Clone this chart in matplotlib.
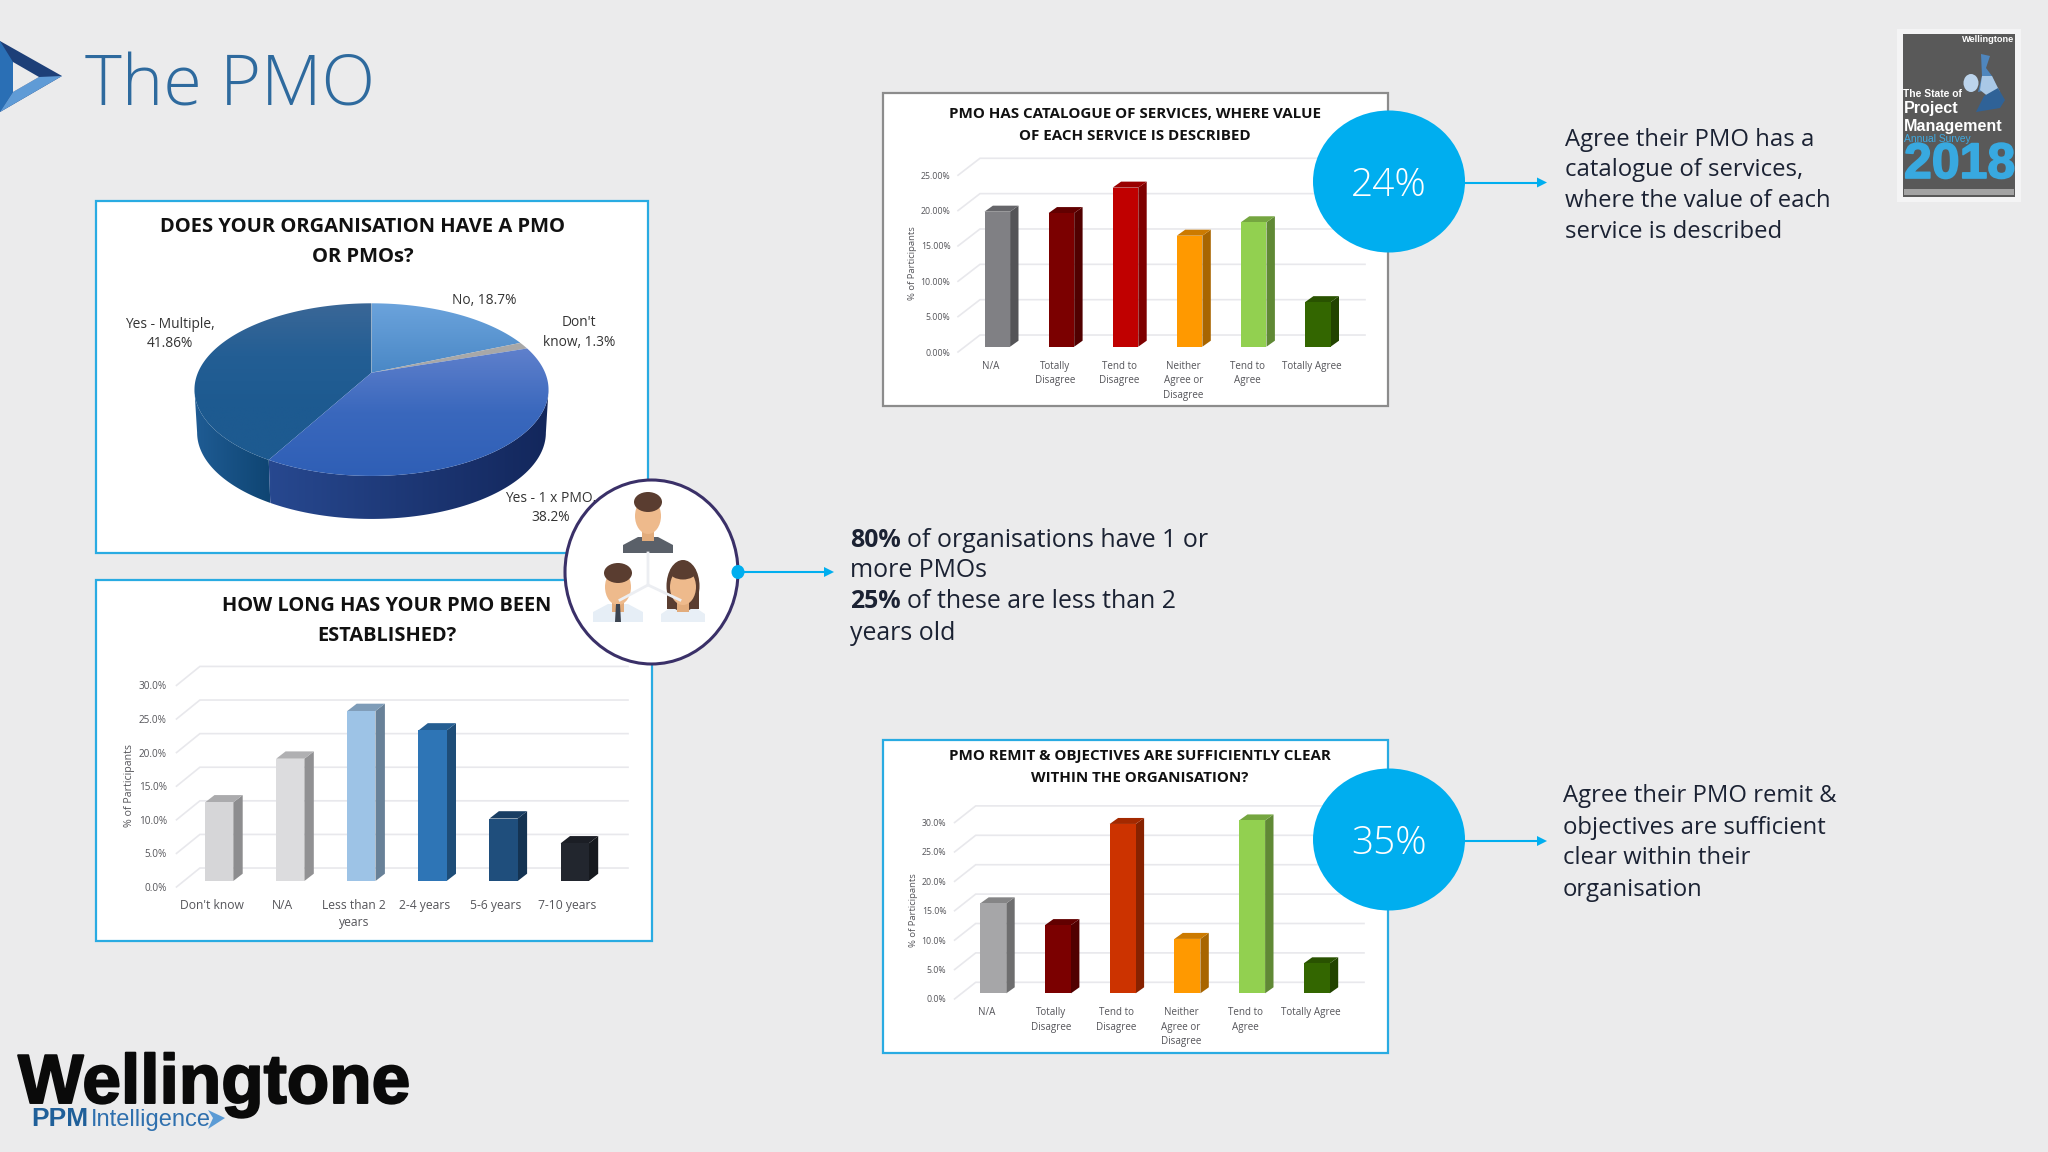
import numpy as np
import matplotlib
matplotlib.use("Agg")
import matplotlib.pyplot as plt
from matplotlib.patches import Ellipse, Polygon, Rectangle
from matplotlib import patheffects as pe
from matplotlib.colors import LinearSegmentedColormap, to_rgb

# ---------- data ----------
pie_labels = ["No, 18.7%", "Don't\nknow, 1.3%", "Yes - 1 x PMO,\n38.2%", "Yes - Multiple,\n41.86%"]
pie_values = [18.7, 1.3, 38.2, 41.86]

years_cats = ["Don't know", "N/A", "Less than 2\nyears", "2-4 years", "5-6 years", "7-10 years"]
years_vals = [11.7, 18.2, 25.3, 22.4, 9.3, 5.6]
years_ticks = [0, 5, 10, 15, 20, 25, 30]
years_labels = ["0.0%", "5.0%", "10.0%", "15.0%", "20.0%", "25.0%", "30.0%"]
years_colors = ["#d6d6d8", "#dcdcde", "#9dc3e6", "#2e75b6", "#1f4e7c", "#22262e"]

agree_cats = ["N/A", "Totally\nDisagree", "Tend to\nDisagree", "Neither\nAgree or\nDisagree", "Tend to\nAgree", "Totally Agree"]

catalogue_vals = [19.1, 18.9, 22.5, 15.7, 17.6, 6.3]
catalogue_ticks = [0, 5, 10, 15, 20, 25]
catalogue_labels = ["0.00%", "5.00%", "10.00%", "15.00%", "20.00%", "25.00%"]
catalogue_colors = ["#808084", "#7b0000", "#c00000", "#ff9900", "#92d050", "#336600"]

remit_vals = [15.3, 11.6, 28.8, 9.25, 29.4, 5.1]
remit_ticks = [0, 5, 10, 15, 20, 25, 30]
remit_labels = ["0.0%", "5.0%", "10.0%", "15.0%", "20.0%", "25.0%", "30.0%"]
remit_colors = ["#a6a6a8", "#7b0000", "#cc3300", "#ff9900", "#92d050", "#336600"]

# ---------- set-up ----------
W, H = 2048, 1152
BG = "#ebebec"
CYAN = "#00aeef"
FRAME = "#29abe2"
TXT = "#1b2233"
plt.rcParams["font.family"] = ["Open Sans", "DejaVu Sans"]
fig = plt.figure(figsize=(W / 100, H / 100), dpi=100, facecolor=BG)


def pix_axes(z):
    a = fig.add_axes([0, 0, 1, 1], zorder=z)
    a.set_xlim(0, W)
    a.set_ylim(H, 0)
    a.axis("off")
    a.patch.set_alpha(0)
    return a


under = pix_axes(0)
over = pix_axes(5)

# panels
for (x0, y0, x1, y1, c) in [(96, 201, 648, 553, FRAME), (96, 580, 652, 941, FRAME),
                            (883, 93, 1388, 406, "#8c8c8c"), (883, 740, 1388, 1053, FRAME)]:
    under.add_patch(Rectangle((x0, y0), x1 - x0, y1 - y0, fc="white", ec=c, lw=1.6))


def shade(c, f):
    return tuple(v * f for v in to_rgb(c))


def bar_chart(rect, x0_px, step_px, y0_px, py_per, cats, vals, ticks, labels, colors,
              width_px, side_px, rise_px, fd, bd, backx_px, xfs, yfs, pad, xpad, lab_shift):
    left, right = rect
    xlim = ((left - x0_px) / step_px, (right - x0_px) / step_px)
    ymin, ymax = -fd, ticks[-1] + bd
    top_px = y0_px - ymax * py_per
    bot_px = y0_px - ymin * py_per
    ax = fig.add_axes([left / W, 1 - bot_px / H, (right - left) / W, (bot_px - top_px) / H], zorder=1)
    ax.patch.set_alpha(0)
    ax.set_xlim(*xlim)
    ax.set_ylim(ymin, ymax)
    for s in ax.spines.values():
        s.set_visible(False)
    xb = (backx_px - x0_px) / step_px
    for t in ticks:
        ax.plot([xlim[0], xb, xlim[1]], [t - fd, t + bd, t + bd], color="#e8e8ec", lw=1.2, zorder=1,
                clip_on=False, solid_joinstyle="miter")
    w = width_px / step_px
    dx = side_px / step_px
    dy = rise_px / py_per
    xs = np.arange(len(vals))
    for x, v, c in zip(xs, vals, colors):
        r = x + w / 2
        l = x - w / 2
        ax.fill([r, r + dx, r + dx, r], [0, dy, v + dy, v], color=shade(c, 0.66), lw=0, zorder=2)
        ax.fill([l, l + dx, r + dx, r], [v, v + dy, v + dy, v], color=shade(c, 0.8), lw=0, zorder=2)
    ax.bar(xs, vals, width=w, color=colors, zorder=3)
    ax.set_yticks(np.array(ticks) - fd, labels)
    ax.set_xticks(xs + lab_shift, cats)
    ax.tick_params(axis="both", length=0, labelcolor="#55555a")
    ax.tick_params(axis="y", pad=pad, labelsize=yfs)
    ax.tick_params(axis="x", pad=xpad, labelsize=xfs)
    for t in ax.get_xticklabels():
        t.set_linespacing(1.42)
    return ax


bar_chart((958, 1365), 997.3, 64.1, 346.7, 7.07, agree_cats, catalogue_vals, catalogue_ticks,
          catalogue_labels, catalogue_colors, 25.6, 8.4, 6, 0.75, 1.65, 980, 7.1, 6.3, 5.5, 6.5, -0.1)
bar_chart((954.6, 1364), 993.3, 64.7, 993.3, 5.88, agree_cats, remit_vals, remit_ticks,
          remit_labels, remit_colors, 26, 8.4, 6, 0.96, 1.87, 975.7, 7.1, 6.3, 6, 6, -0.1)
bar_chart((176.5, 628), 219.2, 71.1, 881, 6.72, years_cats, years_vals, years_ticks,
          years_labels, years_colors, 28.2, 9.4, 7.3, 0.89, 1.93, 199.9, 8.7, 7.2, 7, 8.5, -0.106)

under.text(912.5, 263, "% of Participants", rotation=90, ha="center", va="center", fontsize=6.8, color="#55555a")
over.text(913.7, 910, "% of Participants", rotation=90, ha="center", va="center", fontsize=6.8, color="#55555a")
under.text(129.5, 785.7, "% of Participants", rotation=90, ha="center", va="center", fontsize=7.7, color="#55555a")


# ---------- 3-D pie, slices from pie_values ----------
apex_x, apex_y, Sx, Sy, k, depth = 371.5, 372.7, 173.6, 83.0, 0.196, 43.0


def proj(deg, shift=0.0, shrink=1.0):
    t = np.radians(deg)
    w = 1 + k * np.sin(t)
    return apex_x + shrink * Sx * np.cos(t) / w, apex_y - Sy * np.sin(t) / w + shift


def grad_fill(ax, xy, colors, vertical=True, zorder=2):
    cm = LinearSegmentedColormap.from_list("g", colors)
    g = np.linspace(0, 1, 64)
    g = g[:, None] if vertical else g[None, :]
    x0, x1, y0, y1 = xy[:, 0].min(), xy[:, 0].max(), xy[:, 1].min(), xy[:, 1].max()
    im = ax.imshow(g, cmap=cm, extent=(x0, x1, y1, y0), aspect="auto", zorder=zorder, interpolation="bilinear")
    p = Polygon(xy, closed=True, transform=ax.transData, fc="none", ec="none")
    ax.add_patch(p)
    im.set_clip_path(p)


total = sum(pie_values)
edges = 90 - np.cumsum([0] + pie_values) * 360 / total
top_cols = [["#6ba3dc", "#4a88c6"], ["#a8a8a8", "#a8a8a8"], ["#5f80cc", "#3a68bd", "#2f5fb6"],
            ["#3a6797", "#235e94", "#1d5a90", "#1d5a90"]]
lim = np.degrees(np.arcsin(k))

# side walls
for (a0, a1, cols) in [(edges[3], -180 + lim, ["#1f5c94", "#0f4573"]), (-lim, edges[3], ["#27488f", "#13275c"])]:
    ang = np.linspace(a0, a1, 80)
    xa, ya = proj(ang)
    xb, yb = proj(ang, depth, 0.985)
    pts = np.column_stack([np.r_[xa, xb[::-1]], np.r_[ya, yb[::-1]]])
    grad_fill(under, pts, cols, vertical=False)

for i in [3, 0, 1, 2]:
    ang = np.linspace(edges[i], edges[i + 1], 120)
    xa, ya = proj(ang)
    pts = np.column_stack([np.r_[apex_x, xa], np.r_[apex_y, ya]])
    grad_fill(under, pts, top_cols[i], zorder=3)

under.set_xlim(0, W)
under.set_ylim(H, 0)

for lab, (x, y) in zip(pie_labels, [(484.6, 301), (578.7, 332.7), (550.5, 508), (169.8, 334)]):
    under.text(x, y, lab, ha="center", va="center", fontsize=9.9, color="#333333", linespacing=1.4, zorder=6)

# ---------- titles ----------
BOLD = dict(ha="center", va="center", fontweight="bold", color="#111111", zorder=6)
under.text(362.7, 226.8, "DOES YOUR ORGANISATION HAVE A PMO", fontsize=14.5, **BOLD)
under.text(362.7, 256.5, "OR PMOs?", fontsize=14.5, **BOLD)
under.text(387, 605.8, "HOW LONG HAS YOUR PMO BEEN", fontsize=14.4, **BOLD)
under.text(387, 635.8, "ESTABLISHED?", fontsize=14.4, **BOLD)
under.text(1135, 113.8, "PMO HAS CATALOGUE OF SERVICES, WHERE VALUE", fontsize=10.9, **BOLD)
under.text(1135, 135.5, "OF EACH SERVICE IS DESCRIBED", fontsize=10.9, **BOLD)
under.text(1139.5, 755.8, "PMO REMIT & OBJECTIVES ARE SUFFICIENTLY CLEAR", fontsize=10.9, **BOLD)
under.text(1139.5, 777.5, "WITHIN THE ORGANISATION?", fontsize=10.9, **BOLD)

# ---------- page title and logo ----------
over.add_patch(Polygon([(0, 41), (62, 76), (0, 112)], fc="#1d3f78", ec="none"))
over.add_patch(Polygon([(0, 41), (13, 62), (13, 92), (0, 112)], fc="#2a6fb5", ec="none"))
over.add_patch(Polygon([(0, 112), (13, 92), (39, 77), (62, 76)], fc="#5f9bd6", ec="none"))
over.add_patch(Polygon([(13, 62), (39, 77), (13, 92)], fc=BG, ec="none"))
over.text(85, 105, "The PMO", fontsize=50.5, fontweight=300, color="#2e6a9e", ha="left", va="baseline")

# ---------- callout circles ----------
for cy, txt in [(181.5, "24%"), (839.5, "35%")]:
    over.add_patch(Ellipse((1389, cy), 152, 142, fc=CYAN, ec="none"))
    over.text(1389, cy + 4, txt, fontsize=28, fontweight=300, color="white", ha="center", va="center")


def arrow(x0, x1, y):
    over.plot([x0, x1 - 8], [y, y], color=CYAN, lw=1.5, solid_capstyle="butt")
    over.add_patch(Polygon([(x1 - 10, y - 5), (x1, y), (x1 - 10, y + 5)], fc=CYAN, ec="none"))


arrow(1464, 1547, 182.5)
arrow(1464, 1547, 841)
arrow(738, 834, 572)

# ---------- people circle ----------
over.add_patch(Ellipse((651.5, 572), 173, 184, fc="white", ec="#3a3068", lw=2.2))
over.add_patch(Ellipse((738, 572), 13, 14, fc=CYAN, ec="none"))
over.plot([648, 648, 620], [553, 585, 600], color="#eceef2", lw=2)
over.plot([648, 680], [585, 600], color="#eceef2", lw=2)


def person(cx, cy, hair, body, bw, btop, bbot, female=False, tie=False):
    over.add_patch(Polygon([(cx - bw, bbot), (cx - bw, btop + 8), (cx - 10, btop), (cx + 10, btop),
                            (cx + bw, btop + 8), (cx + bw, bbot)], fc=body, ec="none"))
    if female:
        over.add_patch(Ellipse((cx, cy + 2), 33, 52, fc=hair, ec="none"))
        over.add_patch(Rectangle((cx - 16, cy), 32, 25, fc=hair, ec="none"))
    over.add_patch(Rectangle((cx - 6, cy + 14), 12, 14, fc="#e2ac7c", ec="none"))
    over.add_patch(Ellipse((cx, cy + 3), 26, 36, fc="#eeba8c", ec="none"))
    if not female:
        over.add_patch(Ellipse((cx, cy - 11), 28, 20, fc=hair, ec="none"))
    else:
        over.add_patch(Ellipse((cx, cy - 12), 26, 15, fc=hair, ec="none"))
    if tie:
        over.add_patch(Polygon([(cx - 2, btop), (cx + 2, btop), (cx + 3, bbot), (cx - 3, bbot)], fc="#3c4450", ec="none"))


person(648, 513, "#5a3d30", "#5a6069", 25, 537, 553)
person(618, 584, "#5a3d30", "#e6eef6", 25, 604, 622, tie=True)
person(683, 584, "#5a3d30", "#e8eff6", 22, 606, 622, female=True)

# ---------- body text ----------
BODY = dict(fontsize=17.2, color=TXT, ha="left", va="center")
MID = dict(fontsize=17.9, color=TXT, ha="left", va="center")
for y, s in zip([139.5, 169.5, 201, 231.5], ["Agree their PMO has a", "catalogue of services,", "where the value of each", "service is described"]):
    over.text(1564.6, y, s, **BODY)
for y, s in zip([796.5, 827.5, 858, 889.5], ["Agree their PMO remit &", "objectives are sufficient", "clear within their", "organisation"]):
    over.text(1563, y, s, **BODY)

fig.canvas.draw()
rend = fig.canvas.get_renderer()
for y, b, s in [(540.5, "80%", "of organisations have 1 or"), (602, "25%", "of these are less than 2")]:
    tb = over.text(850, y, b, fontweight="bold", **MID)
    ext = tb.get_window_extent(rend)
    over.text(ext.x1 + 6.5, y, s, **MID)
over.text(850, 570.5, "more PMOs", **MID)
over.text(850, 633.5, "years old", **MID)

# ---------- company logo ----------
over.text(18, 1103, "Wellingtone", family="Liberation Sans", fontweight="bold", fontsize=50, color="#0a0a0a",
          ha="left", va="baseline", path_effects=[pe.withStroke(linewidth=1.4, foreground="#0a0a0a")])
over.text(31, 1126, "PPM", family="Liberation Sans", fontweight="bold", fontsize=19, color="#1f5f99", ha="left", va="baseline")
over.text(91, 1126, "Intelligence", family="Liberation Sans", fontsize=17, color="#2f70ae", ha="left", va="baseline")
over.add_patch(Polygon([(208, 1110), (225, 1118), (208, 1129), (213, 1118)], fc="#5b9bd5", ec="none"))

# ---------- report cover ----------
over.add_patch(Rectangle((1897, 29), 124, 173, fc="#f4f4f5", ec="none"))
over.add_patch(Rectangle((1903, 34), 112, 163, fc="#595959", ec="none"))
H_ = dict(family="Liberation Sans", fontweight="bold", ha="left", va="center")
over.text(1962, 40, "Wellingtone", fontsize=6.6, color="white", **H_)
over.add_patch(Ellipse((1971, 83), 15, 18, fc="#bcd4ec", ec="none"))
over.add_patch(Polygon([(1981, 54), (1990, 56), (1986, 68), (1992, 76), (1997, 88), (1978, 92), (1982, 76)], fc="#4f86bd", ec="none"))
over.add_patch(Polygon([(1982, 76), (1992, 76), (2000, 92), (1990, 98), (1980, 90)], fc="#a9c8e6", ec="none"))
over.add_patch(Polygon([(1984, 96), (1998, 88), (2005, 100), (2000, 108), (1976, 112)], fc="#2f6297", ec="none"))
over.text(1903, 94, "The State of", fontsize=7.4, color="white", **H_)
over.text(1904, 108, "Project", fontsize=11.6, color="white", **H_)
over.text(1904, 126, "Management", fontsize=11.6, color="white", **H_)
over.text(1904, 139, "Annual Survey", fontsize=7.4, color="#3fa9e0", family="Liberation Sans", ha="left", va="center")
over.text(1904, 165, "2018", fontsize=36, color="#38a9e0",
          path_effects=[pe.withStroke(linewidth=1.2, foreground="#38a9e0")], **H_)
over.add_patch(Rectangle((1904, 189), 110, 6, fc="#eeeeee", ec="none", alpha=0.5))

fig.savefig("out.png", dpi=100, facecolor=BG)
